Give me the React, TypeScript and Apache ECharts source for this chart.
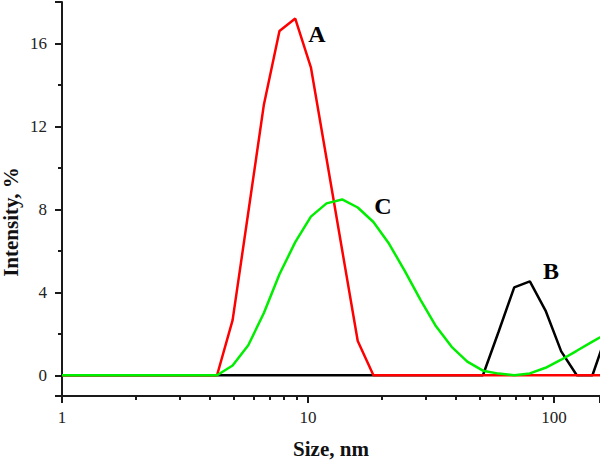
import React, { useEffect, useRef } from "react";
import * as echarts from "echarts";

// Particle size grid (nm), log-spaced bins
const sizes = [
  1, 4.27, 4.94, 5.72, 6.62, 7.66, 8.88, 10.28, 11.9, 13.77, 15.94, 18.46, 21.38,
  24.75, 28.65, 33.17, 38.4, 44.46, 51.47, 59.59, 68.99, 79.87, 92.49, 107.1,
  123.9, 143.5, 166.2,
];

// Intensity (%) for each sample
const intensityA = [
  0, 0, 2.66, 7.85, 13.05, 16.6, 17.2, 14.85, 10.45, 6.05, 1.65, 0, 0, 0, 0, 0,
  0, 0, 0, 0, 0, 0, 0, 0, 0, 0, 0,
];
const intensityB = [
  0, 0, 0, 0, 0, 0, 0, 0, 0, 0, 0, 0, 0, 0, 0, 0, 0, 0, 0, 2.1, 4.24, 4.53, 3.12,
  1.15, 0, 0, 2.2,
];
const intensityC = [
  0, 0, 0.47, 1.45, 3.0, 4.87, 6.42, 7.65, 8.29, 8.48, 8.09, 7.39, 6.34, 5.03,
  3.65, 2.36, 1.37, 0.66, 0.22, 0.08, 0.0, 0.09, 0.36, 0.75, 1.18, 1.62, 2.05,
];

const seriesNames = ["A", "B", "C"];
const seriesColors = ["#ff0000", "#000000", "#00ee00"];

const yMajorTicks = [0, 4, 8, 12, 16];
const yMajorStep = 4;
const yMinorStep = 2;
const xMin = 1;
const xMax = 154;
const yMin = -1;
const yMax = 18;

const FONT = "'Liberation Serif', 'Times New Roman', serif";
const AXIS_COLOR = "#1a1a1a";

export default function App() {
  const ref = useRef<HTMLDivElement>(null);

  useEffect(() => {
    if (!ref.current) return;
    const chart = echarts.init(ref.current, null, { renderer: "svg" });
    const pairs = (vals: number[]) => sizes.map((s, i) => [s, vals[i]]);
    const lineStyleAxis = { color: AXIS_COLOR, width: 2 };

    const letter = (text: string, x: number, y: number) => ({
      type: "text",
      x,
      y,
      style: {
        text,
        fontFamily: FONT,
        fontWeight: "bold",
        fontSize: 24,
        fill: "#000",
        align: "center",
        verticalAlign: "middle",
      },
    });

    chart.setOption({
      animation: false,
      backgroundColor: "#ffffff",
      grid: { left: 62, right: 0, top: 2, bottom: 65, outerBoundsMode: "none" },
      xAxis: [
        {
          type: "log",
          logBase: 10,
          position: "bottom",
          min: xMin,
          max: xMax,
          name: "Size, nm",
          nameLocation: "middle",
          nameGap: 42,
          nameTextStyle: {
            fontFamily: FONT,
            fontWeight: "bold",
            fontSize: 21,
            color: "#111",
          },
          axisLine: { show: true, onZero: false, lineStyle: lineStyleAxis },
          axisTick: { show: true, length: 7, lineStyle: lineStyleAxis },
          minorTick: { show: true, splitNumber: 9, length: 4, lineStyle: lineStyleAxis },
          axisLabel: {
            margin: 13,
            fontFamily: FONT,
            fontSize: 17,
            color: "#222",
            showMinLabel: true,
            showMaxLabel: false,
          },
          splitLine: { show: false },
          minorSplitLine: { show: false },
        },
      ],
      yAxis: [
        {
          type: "value",
          position: "left",
          min: yMin,
          max: yMax,
          minInterval: yMajorStep,
          maxInterval: yMajorStep,
          axisLine: { show: true, onZero: false, lineStyle: lineStyleAxis },
          axisTick: { show: true, length: 7, lineStyle: lineStyleAxis },
          axisLabel: {
            margin: 15,
            fontFamily: FONT,
            fontSize: 17,
            color: "#222",
            formatter: (v: number) => (yMajorTicks.includes(v) ? String(Math.abs(v)) : ""),
          },
          splitLine: { show: false },
        },
        {
          type: "value",
          position: "left",
          min: yMin,
          max: yMax,
          minInterval: yMinorStep,
          maxInterval: yMinorStep,
          axisLine: { show: false, onZero: false },
          axisTick: { show: true, length: 4, lineStyle: lineStyleAxis },
          axisLabel: { show: false },
          splitLine: { show: false },
        },
      ],
      graphic: [
        {
          type: "text",
          x: 11,
          y: 222,
          rotation: Math.PI / 2,
          style: {
            text: "Intensity, %",
            fontFamily: FONT,
            fontWeight: "bold",
            fontSize: 21,
            fill: "#111",
            align: "center",
            verticalAlign: "middle",
          },
        },
        letter(seriesNames[0], 317, 34),
        letter(seriesNames[1], 551, 271),
        letter(seriesNames[2], 383, 206),
      ],
      series: [
        {
          name: seriesNames[1],
          type: "line",
          xAxisIndex: 0,
          yAxisIndex: 0,
          data: pairs(intensityB),
          showSymbol: false,
          lineStyle: { color: seriesColors[1], width: 2.5 },
          itemStyle: { color: seriesColors[1] },
          z: 2,
        },
        {
          name: seriesNames[0],
          type: "line",
          xAxisIndex: 0,
          yAxisIndex: 0,
          data: pairs(intensityA),
          showSymbol: false,
          lineStyle: { color: seriesColors[0], width: 2.5 },
          itemStyle: { color: seriesColors[0] },
          z: 3,
        },
        {
          name: seriesNames[2],
          type: "line",
          xAxisIndex: 0,
          yAxisIndex: 0,
          data: pairs(intensityC),
          showSymbol: false,
          lineStyle: { color: seriesColors[2], width: 2.5 },
          itemStyle: { color: seriesColors[2] },
          z: 4,
        },
      ],
    });

    return () => chart.dispose();
  }, []);

  return (
    <div
      ref={ref}
      style={{ position: "fixed", left: 0, top: 0, width: 600, height: 461, background: "#fff" }}
    />
  );
}
